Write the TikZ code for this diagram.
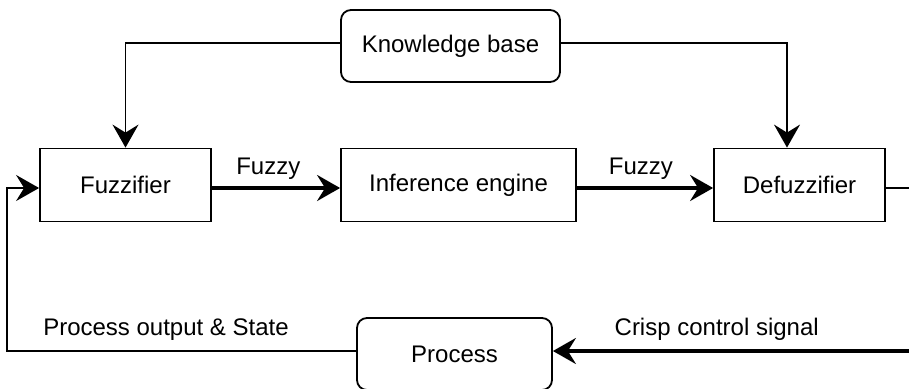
\documentclass[tikz,border=0pt]{standalone}
\usepackage{fontspec}
\setmainfont{Liberation Sans}
\usetikzlibrary{arrows.meta,calc}

\tikzset{
  block/.style={draw, line width=1.8pt, minimum height=73pt, inner sep=0pt},
  roundblock/.style={draw, line width=1.8pt, rounded corners=10pt, inner sep=0pt},
  thinlink/.style={line width=1.8pt},
  thicklink/.style={line width=3.4pt},
  headtip/.style={-{Stealth[length=23pt,width=26pt,inset=8pt]}},
  lbl/.style={inner sep=0pt},
}

\begin{document}
\begin{tikzpicture}[x=1pt, y=-1pt, font=\fontsize{24}{28}\selectfont]
  \useasboundingbox (0,0) rectangle (909,388);

  % blocks of the fuzzy controller
  \node[roundblock, minimum width=219pt, minimum height=72pt] (kb)   at (450.5,46)  {Knowledge base};
  \node[block, minimum width=171pt] (fuz)  at (125.5,185) {Fuzzifier};
  \node[block, minimum width=235pt] (inf)  at (458.5,185) {Inference engine};
  \node[block, minimum width=171pt] (defz) at (799.5,185) {Defuzzifier};
  \node[roundblock, minimum width=195pt, minimum height=72pt] (proc) at (454.5,354) {Process};

  % free ends at the right border
  \coordinate (outR) at (909,188);
  \coordinate (inR)  at (909,351);

  % knowledge base feeds fuzzifier and defuzzifier
  \draw[thinlink, headtip] ($(kb.west)+(0,-3)$) -| (fuz.north);
  \draw[thinlink, headtip] ($(kb.east)+(0,-3)$) -| ($(defz.north)+(-12.5,0)$);

  % main signal path
  \draw[thicklink, headtip] ($(fuz.east)+(0,3)$) -- ($(inf.west)+(0,3)$)
    node[lbl, pos=0.44, above=7pt] {Fuzzy};
  \draw[thicklink, headtip] ($(inf.east)+(0,3)$) -- ($(defz.west)+(0,3)$)
    node[lbl, pos=0.47, above=7pt] {Fuzzy};
  \draw[thinlink] ($(defz.east)+(0,3)$) -- (outR);

  % crisp signal into the process
  \draw[thicklink, headtip] (inR) -- ($(proc.east)+(0,-3)$)
    node[lbl, pos=0.54, above=9pt] {Crisp control signal};

  % feedback from the process to the fuzzifier
  \draw[thinlink, headtip] ($(proc.west)+(0,-3)$) -| (7,188) -- ($(fuz.west)+(0,3)$);
  \node[lbl] (pos) at (166,330) {Process output \& State};
\end{tikzpicture}
\end{document}
